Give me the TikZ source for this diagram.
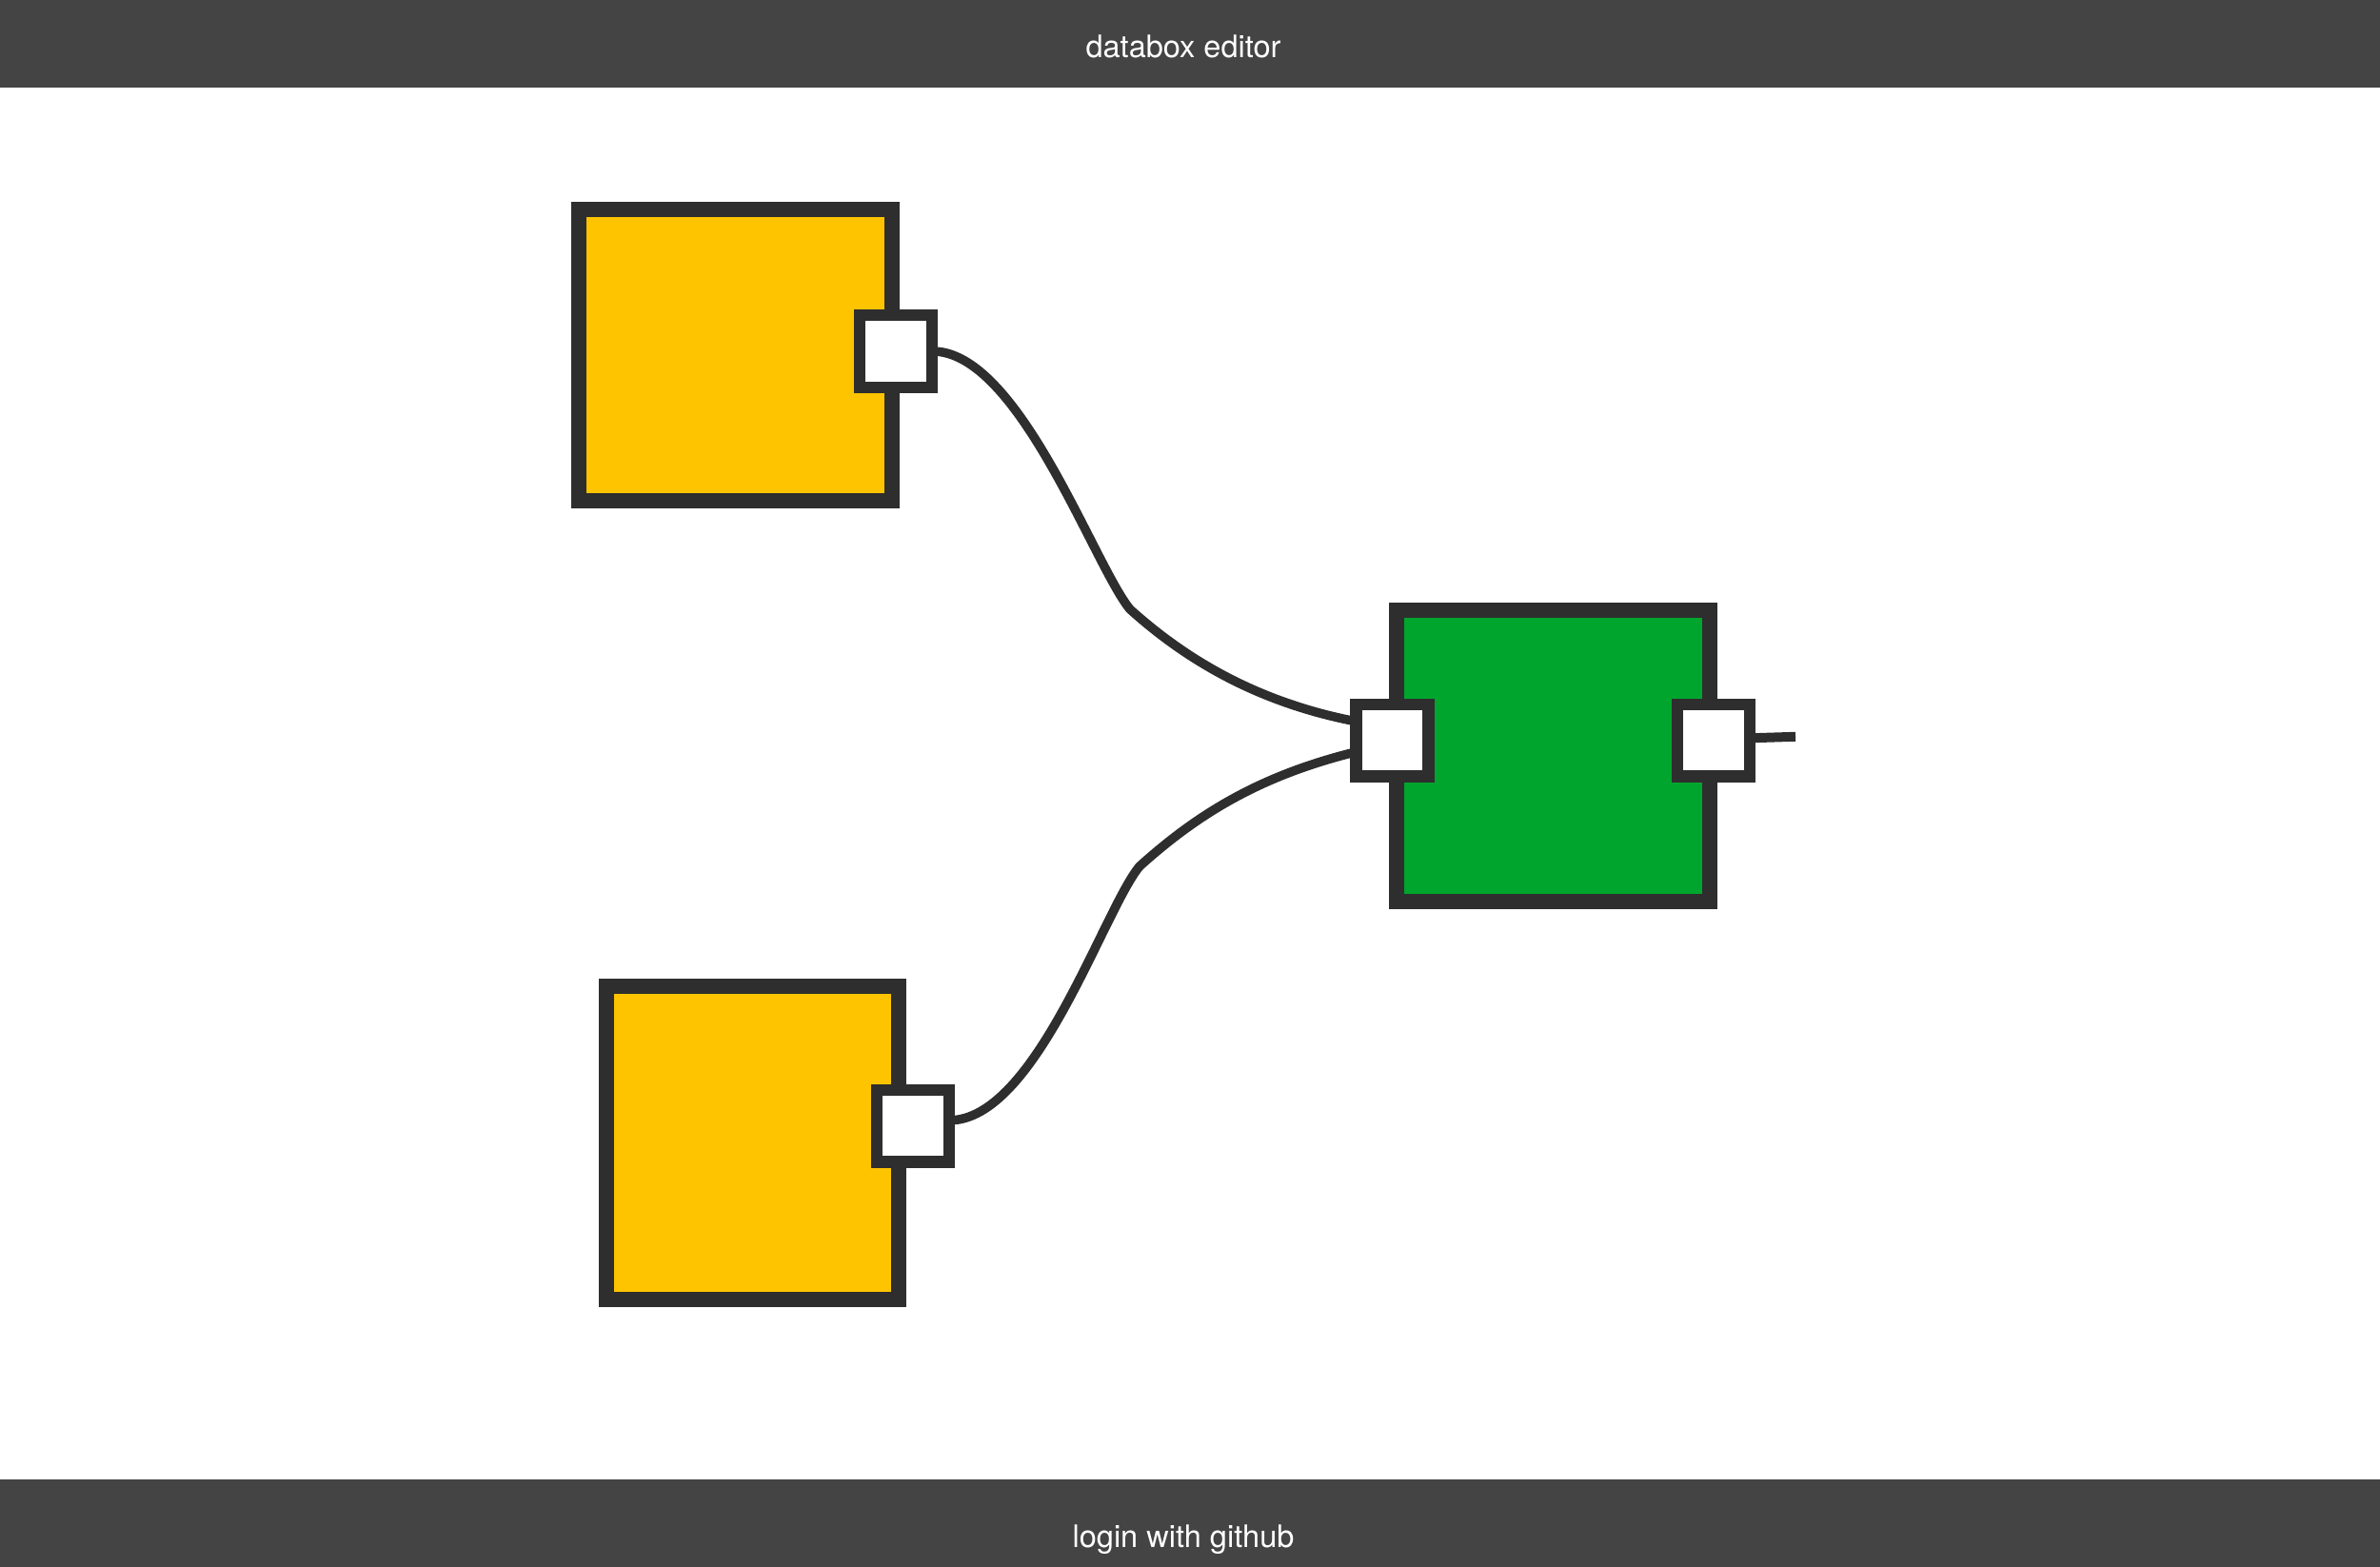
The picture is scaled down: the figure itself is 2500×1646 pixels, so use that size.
\documentclass[tikz,border=0pt]{standalone}
\usepackage{fontspec}
\setmainfont{TeX Gyre Heros}
\pgfdeclarelayer{bg}
\pgfsetlayers{bg,main}
\definecolor{ink}{HTML}{2E2E2E}
\definecolor{bar}{HTML}{444444}
\definecolor{boxyellow}{HTML}{FEC400}
\definecolor{boxgreen}{HTML}{00A52D}
\tikzset{
  databox/.style={rectangle, draw=ink, line width=16pt, inner sep=0pt, outer sep=0pt},
  portbox/.style={rectangle, draw=ink, fill=white, line width=12.5pt, inner sep=0pt, outer sep=0pt, minimum width=76pt, minimum height=75.7pt},
  wire/.style={draw=ink, line width=9.5pt},
  bartext/.style={text=white, anchor=base, inner sep=0pt, font=\fontsize{32.5}{39}\selectfont}
}
\begin{document}
\begin{tikzpicture}[x=1pt,y=-1pt]
\useasboundingbox (0,0) rectangle (2500,1646);
\begin{pgfonlayer}{bg}
\fill[white] (0,0) rectangle (2500,1646);
\end{pgfonlayer}
% bars
\fill[bar] (0,0) rectangle (2500,92);
\fill[bar] (0,1554) rectangle (2500,1646);
\node[bartext] (title) at (1243,61) {databox editor};
\node[bartext] (login) at (1243,1625) {login with github};
% boxes
\node[databox, fill=boxyellow, minimum width=329pt, minimum height=306pt] (y1) at (772.5,373) {};
\node[databox, fill=boxyellow, minimum width=306.4pt, minimum height=329pt] (y2) at (790.5,1200.8) {};
\node[databox, fill=boxgreen, minimum width=329pt, minimum height=305.7pt] (g) at (1631.5,794.3) {};
% ports
\node[portbox] (p1) at (941,369) {};
\node[portbox] (p2) at (959.2,1182.8) {};
\node[portbox] (gl) at (1462.3,777.8) {};
\node[portbox] (gr) at (1800,777.8) {};
% connectors
\coordinate (k1) at (1187,640);
\coordinate (k2) at (1197,910);
\coordinate (out) at (1886,773.8);
\begin{pgfonlayer}{bg}
\draw[wire] (p1.east) .. controls (1070,368) and (1149,594) .. (k1)
  .. controls (1247,694) and (1322,738) .. ([yshift=20pt]gl.west);
\draw[wire] ([yshift=6pt]p2.east) .. controls (1088,1177) and (1159,956) .. (k2)
  .. controls (1257,856) and (1322,815) .. ([yshift=-12pt]gl.west);
\draw[wire, line width=10pt] ([yshift=2.5pt]gr.east) -- (out);
\end{pgfonlayer}
\end{tikzpicture}
\end{document}
